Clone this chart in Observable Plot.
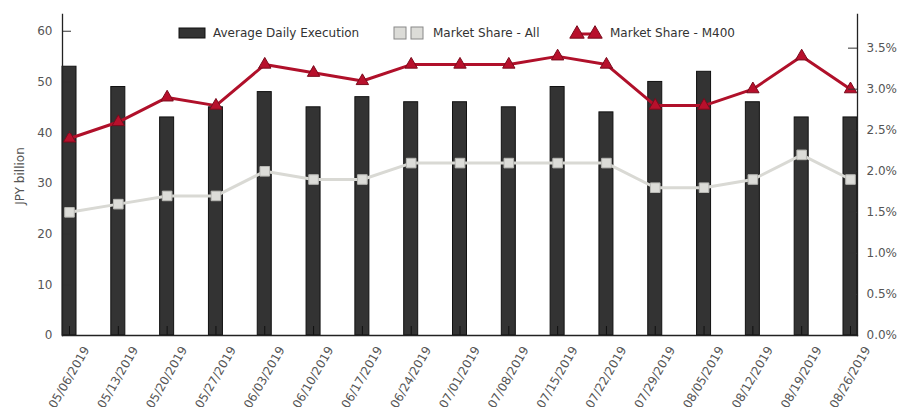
<!DOCTYPE html>
<html><head><meta charset="utf-8">
<script src="https://cdn.jsdelivr.net/npm/d3@7"></script>
<script src="https://cdn.jsdelivr.net/npm/@observablehq/plot@0.6"></script>
<style>
html,body{margin:0;padding:0;background:#fff;}
#wrap{position:relative;width:898px;height:407px;font-family:"DejaVu Sans",sans-serif;}
#legend{position:absolute;left:0;top:0;pointer-events:none;}
</style>
</head><body>
<div id="wrap"><div id="chart"></div><svg id="legend" width="898" height="407"></svg></div>
<script>
const dates = ["05/06/2019","05/13/2019","05/20/2019","05/27/2019","06/03/2019","06/10/2019","06/17/2019","06/24/2019","07/01/2019","07/08/2019","07/15/2019","07/22/2019","07/29/2019","08/05/2019","08/12/2019","08/19/2019","08/26/2019"];
const ade = [53,49,43,45,48,45,47,46,46,45,49,44,50,52,46,43,43];
const shareAll = [1.5,1.6,1.7,1.7,2.0,1.9,1.9,2.1,2.1,2.1,2.1,2.1,1.8,1.8,1.9,2.2,1.9];
const shareM400 = [2.4,2.6,2.9,2.8,3.3,3.2,3.1,3.3,3.3,3.3,3.4,3.3,2.8,2.8,3.0,3.4,3.0];
const leftTicks = [0,10,20,30,40,50,60];
const rightTicks = [0,0.5,1.0,1.5,2.0,2.5,3.0,3.5];

const K = 16.19; // left units per 1% share
const W = 898, H = 407, mL = 62, mR = 41, mT = 14, mB = 72;
const pw = W - mL - mR, ph = H - mT - mB;

const rows = dates.map((d,i)=>({date:d, ade:ade[i], all:shareAll[i]*K, m400:shareM400[i]*K}));

const plot = Plot.plot({
  width: W, height: H,
  marginLeft: mL, marginRight: mR, marginTop: mT, marginBottom: mB,
  style: {fontFamily: '"DejaVu Sans", sans-serif', fontSize: "12px", color: "#555", background: "#fff"},
  x: {type: "band", domain: dates, paddingInner: 0.713, paddingOuter: 0, round: false, axis: null},
  y: {domain: [0, 63.3], axis: null},
  marks: [
    Plot.barY(rows, {x: "date", y: "ade", fill: "#333", stroke: "#111", strokeWidth: 1}),
    Plot.ruleX(dates, {x: d=>d, insetTop: ph - 9, stroke: "#111", strokeWidth: 1}),
    Plot.line(rows, {x: "date", y: "all", stroke: "#d9d9d4", strokeWidth: 3}),
    Plot.dot(rows, {x: "date", y: "all", symbol: "square", r: 5.4, fill: "#dcdcd8", stroke: "#b8b8b4", strokeWidth: 1}),
    Plot.line(rows, {x: "date", y: "m400", stroke: "#b0102a", strokeWidth: 3}),
    Plot.dot(rows, {x: "date", y: "m400", symbol: "triangle", r: 4.6, fill: "#b8102c", stroke: "#7a0a1c", strokeWidth: 1}),
    Plot.ruleY(leftTicks, {y: d=>d, insetRight: pw - 9, stroke: "#333"}),
    Plot.ruleY(rightTicks, {y: d=>d*K, insetLeft: pw - 9, stroke: "#333"}),
    Plot.axisY(leftTicks, {anchor: "left", tickSize: 0, tickPadding: 10, label: null, color: "#555"}),
    Plot.axisY(rightTicks.map(v=>v*K), {anchor: "right", tickSize: 0, tickPadding: 9, label: null, tickFormat: v => (v/K).toFixed(1) + "%", color: "#555"}),
    Plot.axisX({tickRotate: -60, tickSize: 0, tickPadding: 0, dx: 17, dy: 12, label: null, color: "#555"}),
    Plot.frame({anchor: "left", stroke: "#222", strokeWidth: 1.3}),
    Plot.frame({anchor: "right", stroke: "#222", strokeWidth: 1.3}),
    Plot.frame({anchor: "bottom", stroke: "#222", strokeWidth: 1.3})
  ]
});
document.getElementById("chart").appendChild(plot);

// y axis title and legend (overlay)
const lg = d3.select("#legend");
lg.append("text").attr("transform", "translate(24,176) rotate(-90)").attr("text-anchor", "middle")
  .attr("font-size", 12).attr("fill", "#555").attr("font-family", '"DejaVu Sans", sans-serif').text("JPY billion");
const ly = 33;
const items = [
  {x: 179, label: "Average Daily Execution", kind: "bar"},
  {x: 394, label: "Market Share - All", kind: "all"},
  {x: 571, label: "Market Share - M400", kind: "m400"}
];
for (const it of items) {
  const g = lg.append("g").attr("transform", `translate(${it.x},${ly})`);
  if (it.kind === "bar") {
    g.append("rect").attr("x",0).attr("y",-5).attr("width",26).attr("height",10).attr("fill","#333").attr("stroke","#111");
  } else if (it.kind === "all") {
    for (const cx of [6,23]) g.append("rect").attr("x",cx-6).attr("y",-6).attr("width",12).attr("height",12).attr("fill","#dcdcd8").attr("stroke","#888");
  } else {
    g.append("line").attr("x1",6).attr("x2",24).attr("y1",1).attr("y2",1).attr("stroke","#b0102a").attr("stroke-width",3);
    for (const cx of [6,24]) g.append("path").attr("d", d3.symbol(d3.symbolTriangle, 90)()).attr("transform",`translate(${cx},1)`).attr("fill","#b8102c").attr("stroke","#7a0a1c");
  }
  g.append("text").attr("x", it.kind==="bar"?34:39).attr("y", 4).attr("font-size", 12).attr("fill","#333").attr("font-family",'"DejaVu Sans", sans-serif').text(it.label);
}
</script>
</body></html>
